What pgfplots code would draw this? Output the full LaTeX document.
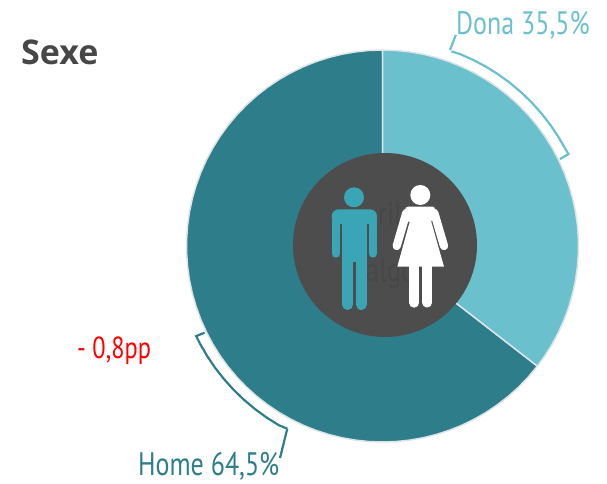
\documentclass[border=0pt]{standalone}
\usepackage{fontspec}
\usepackage{pgfplots}
\pgfplotsset{compat=1.18}
\setmainfont{PT Sans}
\newfontfamily\narrowfont[FakeStretch=0.8]{PT Sans}
\newfontfamily\titlefont[BoldFont={Open Sans Bold}]{Open Sans}
\definecolor{darkteal}{HTML}{2E7D8A}
\definecolor{lightteal}{HTML}{6BC0CD}
\definecolor{manblue}{HTML}{3AA5B5}
\definecolor{inner}{HTML}{4D4D4D}
\definecolor{ghost}{HTML}{474747}
\definecolor{edgecol}{HTML}{DCE4E5}
\begin{document}
\begin{tikzpicture}
\useasboundingbox (0,0) rectangle (607pt,483pt);
\begin{axis}[at={(0,0)},anchor=south west,scale only axis,width=607pt,height=483pt,
  xmin=-382.5,xmax=224.5,ymin=-237,ymax=246,hide axis,clip=false]
% Home 64.5 %
\addplot[data cs=polar,fill=darkteal,draw=edgecol,line width=1.5pt] coordinates {
(0,0)(90,196)(94,196)(98,196)(102,196)(106,196)(110,196)(114,196)(118,196)(122,196)(126,196)
(130,196)(134,196)(138,196)(142,196)(146,196)(150,196)(154,196)(158,196)(162,196)(166,196)
(170,196)(174,196)(178,196)(182,196)(186,196)(190,196)(194,196)(198,196)(202,196)(206,196)
(210,196)(214,196)(218,196)(222,196)(226,196)(230,196)(234,196)(238,196)(242,196)(246,196)
(250,196)(254,196)(258,196)(262,196)(266,196)(270,196)(274,196)(278,196)(282,196)(286,196)
(290,196)(294,196)(298,196)(302,196)(306,196)(310,196)(314,196)(318,196)(322.2,196)(0,0)};
% Dona 35.5 %
\addplot[data cs=polar,fill=lightteal,draw=edgecol,line width=1.5pt] coordinates {
(0,0)(90,196)(86,196)(82,196)(78,196)(74,196)(70,196)(66,196)(62,196)(58,196)(54,196)
(50,196)(46,196)(42,196)(38,196)(34,196)(30,196)(26,196)(22,196)(18,196)(14,196)(10,196)
(6,196)(2,196)(-2,196)(-6,196)(-10,196)(-14,196)(-18,196)(-22,196)(-26,196)(-30,196)(-34,196)(-37.8,196)(0,0)};
% brackets
\addplot[data cs=polar,draw=lightteal,line width=2.2pt] coordinates {
(70.5,206.5)(68,207)(64,207)(60,207)(56,207)(52,207)(48,207)(44,207)(40,207)(36,207)(32,207)(28,207)(26.3,207.5)(26.1,197.5)};
\addplot[data cs=polar,draw=darkteal,line width=2.2pt] coordinates {
(206,198)(205.8,207)(208,207)(212,207)(216,207)(220,207)(224,207)(228,207)(232,207)(236,207)(240,207)(242.5,206)};
\end{axis}
\begin{scope}[x=1pt,y=-1pt,yshift=483pt]
\draw[lightteal,line width=2.2pt] (455.8,35) -- (450,50);
\draw[darkteal,line width=2.2pt] (287.3,428.7) -- (280,458);
\fill[inner] (385,245) circle (92);
\node[text=ghost,font=\narrowfont\fontsize{33}{33}\selectfont,anchor=base west,inner sep=0] at (378,225) {ril};
\node[text=ghost,font=\narrowfont\fontsize{33}{33}\selectfont,anchor=base west,inner sep=0] at (366,281) {algo};
% man
\begin{scope}[manblue]
\fill (354,197.3) circle (10);
\fill[rounded corners=7pt] (331.7,224) -- (331.7,209.3) -- (377,209.3) -- (377,224) -- cycle;
\fill (341.8,215) rectangle (366.8,262);
\draw[line width=8.3pt,line cap=round] (335.8,220) -- (335.8,253.5);
\draw[line width=8.3pt,line cap=round] (372.9,220) -- (372.9,253.5);
\draw[line width=11pt,line cap=round] (347.5,255) -- (347.5,304.5);
\draw[line width=11pt,line cap=round] (361.2,255) -- (361.2,304.5);
\end{scope}
% woman
\begin{scope}[white]
\fill (420.3,195) circle (10);
\fill[rounded corners=3pt] (405,206.7) -- (435.7,206.7) -- (431.3,221.7) -- (405,221.7) -- cycle;
\fill (405,209) -- (435.7,209) -- (431.3,221.7) -- (444,266.7) -- (397.3,266.7) -- (409.7,221.7) -- cycle;
\draw[line width=8.3pt,line cap=round] (406.3,213) -- (396.7,246);
\draw[line width=8.3pt,line cap=round] (434.3,213) -- (444,246);
\draw[line width=10pt,line cap=round] (414.3,265) -- (414.3,302.7);
\draw[line width=9.7pt,line cap=round] (427.2,265) -- (427.2,302.7);
\end{scope}
% labels
\node[text=lightteal,font=\narrowfont\fontsize{32.5}{32.5}\selectfont,anchor=base west,inner sep=0] at (456,35) {Dona 35,5\%};
\node[text=darkteal,font=\narrowfont\fontsize{32.5}{32.5}\selectfont,anchor=base west,inner sep=0] at (138,475) {Home 64,5\%};
\node[text=red,font=\narrowfont\fontsize{30.5}{30.5}\selectfont,anchor=base west,inner sep=0] at (77,358) {- 0,8pp};
\node[text=black!72,font=\titlefont\bfseries\fontsize{34}{34}\selectfont,anchor=base west,inner sep=0] at (21,65) {Sexe};
\end{scope}
\end{tikzpicture}
\end{document}
